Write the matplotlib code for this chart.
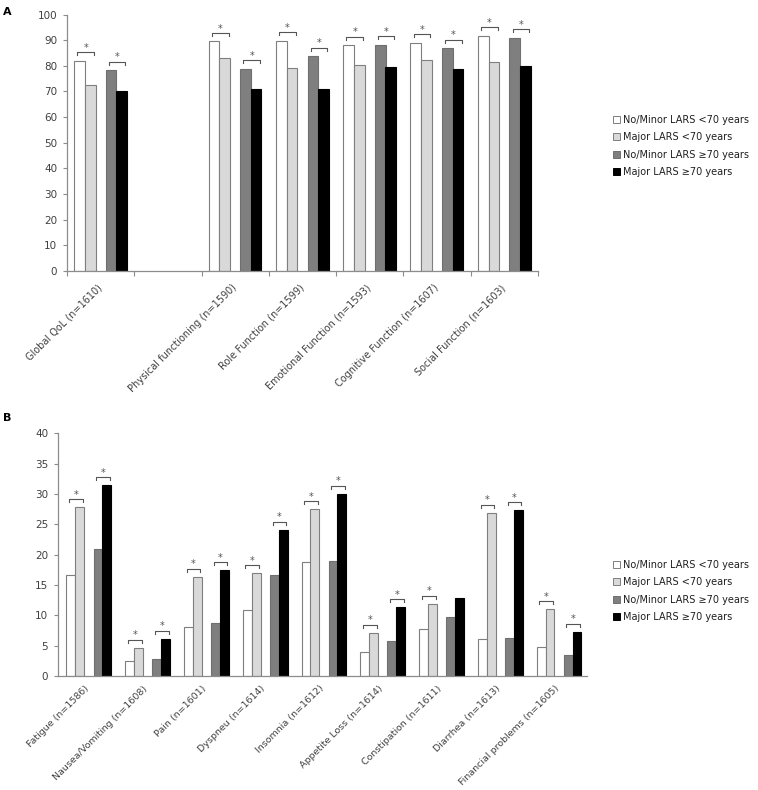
import numpy as np
import matplotlib
matplotlib.use("Agg")
import matplotlib.pyplot as plt
from matplotlib.patches import Patch

plt.rcParams['font.family'] = ['DejaVu Sans']

series_labels = ["No/Minor LARS <70 years", "Major LARS <70 years",
                 "No/Minor LARS \u226570 years", "Major LARS \u226570 years"]

# Panel A – functioning scales
categories_a = ["Global QoL (n=1610)", "", "Physical functioning (n=1590)",
                "Role Function (n=1599)", "Emotional Function (n=1593)",
                "Cognitive Function (n=1607)", "Social Function (n=1603)"]
nominor_lt70_a = [82.0, np.nan, 89.5, 89.8, 88.0, 89.0, 91.8]
major_lt70_a = [72.7, np.nan, 83.2, 79.3, 80.2, 82.1, 81.6]
nominor_ge70_a = [78.3, np.nan, 78.8, 83.7, 88.3, 86.8, 91.0]
major_ge70_a = [70.0, np.nan, 70.8, 71.0, 79.6, 78.8, 79.8]
sig_young_a = [1, 0, 1, 1, 1, 1, 1]
sig_old_a = [1, 0, 1, 1, 1, 1, 1]

# Panel B – symptom scales
categories_b = ["Fatigue (n=1586)", "Nausea/Vomiting (n=1608)", "Pain (n=1601)",
                "Dyspneu (n=1614)", "Insomnia (n=1612)", "Appetite Loss (n=1614)",
                "Constipation (n=1611)", "Diarrhea (n=1613)",
                "Financial problems (n=1605)"]
nominor_lt70_b = [16.6, 2.4, 8.0, 10.8, 18.8, 4.0, 7.8, 6.1, 4.7]
major_lt70_b = [27.8, 4.6, 16.3, 16.9, 27.5, 7.1, 11.9, 26.9, 11.0]
nominor_ge70_b = [20.9, 2.8, 8.7, 16.7, 19.0, 5.7, 9.8, 6.2, 3.5]
major_ge70_b = [31.4, 6.1, 17.4, 24.1, 30.0, 11.3, 12.9, 27.3, 7.3]
sig_young_b = [1, 1, 1, 1, 1, 1, 1, 1, 1]
sig_old_b = [1, 1, 1, 1, 1, 1, 0, 1, 1]

face_colors = ["#ffffff", "#d9d9d9", "#7f7f7f", "#000000"]
edge_colors = ["#7f7f7f", "#7f7f7f", "#6f6f6f", "#000000"]
axis_color = "#8c8c8c"
text_color = "#404040"

fig = plt.figure(figsize=(7.58, 7.90), dpi=100)
W, H = 758.0, 790.0


def make_axes(left, right, top, bottom):
    return fig.add_axes([left / W, 1 - bottom / H, (right - left) / W, (bottom - top) / H])


def draw_panel(ax, cats, data, sig1, sig2, offsets, width, ymax, ystep, gap, tick,
               xticks_marks, label_size, label_pad):
    n = len(cats)
    x = np.arange(n)
    for vals, off, fc, ec in zip(data, offsets, face_colors, edge_colors):
        ax.bar(x + off, vals, width=width, color=fc, edgecolor=ec, linewidth=0.8, zorder=2)
    # significance brackets
    for i in range(n):
        for flag, (a, b) in ((sig1[i], (0, 1)), (sig2[i], (2, 3))):
            if not flag:
                continue
            x1 = x[i] + offsets[a] - 0.2 * width
            x2 = x[i] + offsets[b] + 0.35 * width
            top = max(data[a][i], data[b][i]) + gap
            ax.plot([x1, x1, x2, x2], [top - tick, top, top, top - tick],
                    color="#555555", linewidth=0.8, zorder=3, clip_on=False)
            ax.annotate("*", xy=((x1 + x2) / 2, top), xytext=(0, 3.2),
                        textcoords="offset points", ha="center", va="center",
                        fontsize=7, color="#555555")
    ax.set_xlim(-0.5, n - 0.5)
    ax.set_ylim(0, ymax)
    ax.set_yticks(np.arange(0, ymax + 0.1, ystep))
    ax.set_xticks(x)
    ax.set_xticklabels(cats, rotation=45, ha="right", va="center", rotation_mode="anchor",
                       fontsize=label_size, color=text_color)
    ax.tick_params(axis="x", length=0, pad=label_pad)
    ax.tick_params(axis="y", length=3, width=0.8, color=axis_color,
                   labelsize=7.5, labelcolor=text_color, pad=4)
    if xticks_marks:
        ax.set_xticks(np.arange(-0.5, n, 1.0), minor=True)
        ax.tick_params(axis="x", which="minor", length=3.5, width=0.8, color=axis_color)
    for s in ("top", "right"):
        ax.spines[s].set_visible(False)
    for s in ("left", "bottom"):
        ax.spines[s].set_color(axis_color)
        ax.spines[s].set_linewidth(0.9)


axA = make_axes(67, 538, 14.5, 271)
draw_panel(axA, categories_a,
           [nominor_lt70_a, major_lt70_a, nominor_ge70_a, major_ge70_a],
           sig_young_a, sig_old_a,
           [-0.315, -0.155, 0.155, 0.31], 0.16, 100, 10, 3.3, 1.2, True, 7, 11)

axB = make_axes(58, 587, 433.3, 676)
draw_panel(axB, categories_b,
           [nominor_lt70_b, major_lt70_b, nominor_ge70_b, major_ge70_b],
           sig_young_b, sig_old_b,
           [-0.28, -0.13, 0.18, 0.33], 0.152, 40, 5, 1.35, 0.5, False, 6.8, 8)

handles = [Patch(facecolor=fc, edgecolor=ec, linewidth=0.7)
           for fc, ec in zip(face_colors, edge_colors)]
for top_px in (115.0, 560.0):
    fig.legend(handles, series_labels, loc="upper left",
               bbox_to_anchor=(613 / W, 1 - top_px / H), frameon=False,
               fontsize=7, handlelength=0.7, handleheight=0.7,
               handletextpad=0.3, labelspacing=0.75, borderpad=0,
               borderaxespad=0, labelcolor="#202020")

fig.text(3 / W, 1 - 12 / H, "A", fontsize=8, fontweight="bold", va="center")
fig.text(3 / W, 1 - 418 / H, "B", fontsize=8, fontweight="bold", va="center")

fig.savefig("out.png", dpi=100)
